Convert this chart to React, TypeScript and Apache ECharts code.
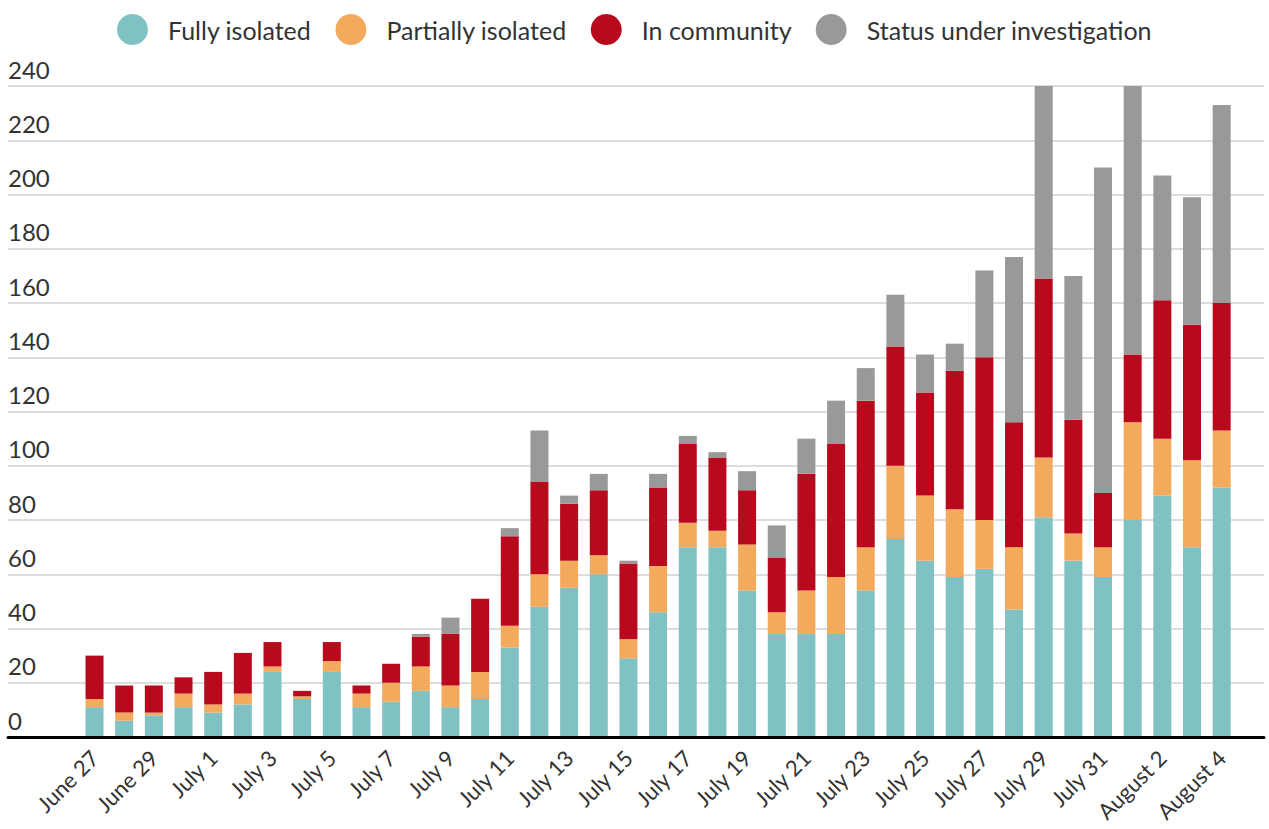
import React, { useEffect, useRef } from "react";
import * as echarts from "echarts";

const categories = [
  "June 27", "June 28", "June 29", "June 30",
  "July 1", "July 2", "July 3", "July 4", "July 5", "July 6", "July 7", "July 8", "July 9", "July 10",
  "July 11", "July 12", "July 13", "July 14", "July 15", "July 16", "July 17", "July 18", "July 19", "July 20",
  "July 21", "July 22", "July 23", "July 24", "July 25", "July 26", "July 27", "July 28", "July 29", "July 30", "July 31",
  "August 1", "August 2", "August 3", "August 4",
];

const fullyIsolated = [11, 6, 8, 11, 9, 12, 24, 14, 24, 11, 13, 17, 11, 14, 33, 48, 55, 60, 29, 46, 70, 70, 54, 38, 38, 38, 54, 73, 65, 59, 62, 47, 81, 65, 59, 80, 89, 70, 92];
const partiallyIsolated = [3, 3, 1, 5, 3, 4, 2, 1, 4, 5, 7, 9, 8, 10, 8, 12, 10, 7, 7, 17, 9, 6, 17, 8, 16, 21, 16, 27, 24, 25, 18, 23, 22, 10, 11, 36, 21, 32, 21];
const inCommunity = [16, 10, 10, 6, 12, 15, 9, 2, 7, 3, 7, 11, 19, 27, 33, 34, 21, 24, 28, 29, 29, 27, 20, 20, 43, 49, 54, 44, 38, 51, 60, 46, 66, 42, 20, 25, 51, 50, 47];
const underInvestigation = [0, 0, 0, 0, 0, 0, 0, 0, 0, 0, 0, 1, 6, 0, 3, 19, 3, 6, 1, 5, 3, 2, 7, 12, 13, 16, 12, 19, 14, 10, 32, 61, 71, 53, 120, 99, 46, 47, 73];

const seriesNames = ["Fully isolated", "Partially isolated", "In community", "Status under investigation"];
const seriesColors = ["#80c1c4", "#f4aa5c", "#b80a1c", "#999999"];
const seriesData = [fullyIsolated, partiallyIsolated, inCommunity, underInvestigation];

const FONT = "Lato";

export default function App() {
  const ref = useRef<HTMLDivElement>(null);
  useEffect(() => {
    if (!ref.current) return;
    const chart = echarts.init(ref.current, null, { renderer: "svg" });
    chart.setOption({
      animation: false,
      legend: {
        top: 9,
        left: "center",
        icon: "circle",
        itemWidth: 31,
        itemHeight: 31,
        itemGap: 24,
        textStyle: { fontFamily: FONT, fontSize: 25, color: "#333", padding: [0, 0, 0, 15] },
        data: seriesNames,
      },
      grid: [
        { left: 8, right: 5, top: 86, bottom: 92, outerBoundsMode: "none", containLabel: false },
        { left: 79.7, right: 32.5, top: 86, bottom: 92, outerBoundsMode: "none", containLabel: false },
      ],
      xAxis: [
        {
          gridIndex: 0,
          type: "category",
          data: [""],
          axisLine: { show: true, lineStyle: { color: "#000", width: 3 } },
          axisTick: { show: false },
          axisLabel: { show: false },
          splitLine: { show: false },
          z: 10,
        },
        {
          gridIndex: 1,
          type: "category",
          data: categories,
          axisLine: { show: false },
          axisTick: { show: false },
          axisLabel: {
            interval: 1,
            rotate: 45,
            margin: 17,
            fontFamily: FONT,
            fontSize: 22,
            color: "#333",
          },
        },
      ],
      yAxis: [
        {
          gridIndex: 0,
          type: "value",
          min: 0,
          max: 240,
          interval: 20,
          axisLine: { show: false },
          axisTick: { show: false },
          splitLine: { show: true, lineStyle: { color: "#d2d2d2", width: 1.5 } },
          axisLabel: {
            inside: true,
            margin: 0,
            align: "left",
            verticalAlign: "bottom",
            padding: [0, 0, 5, 0],
            fontFamily: FONT,
            fontSize: 24,
            color: "#333",
          },
        },
        {
          gridIndex: 1,
          type: "value",
          min: 0,
          max: 240,
          interval: 20,
          show: false,
          splitLine: { show: false },
        },
      ],
      series: seriesNames.map((name, i) => ({
        name,
        type: "bar",
        stack: "total",
        xAxisIndex: 1,
        yAxisIndex: 1,
        barWidth: 18,
        itemStyle: { color: seriesColors[i] },
        data: seriesData[i],
      })),
    });
    return () => chart.dispose();
  }, []);
  return (
    <div
      ref={ref}
      style={{ position: "fixed", left: 0, top: 0, width: 1269, height: 829, background: "#fff" }}
    />
  );
}
